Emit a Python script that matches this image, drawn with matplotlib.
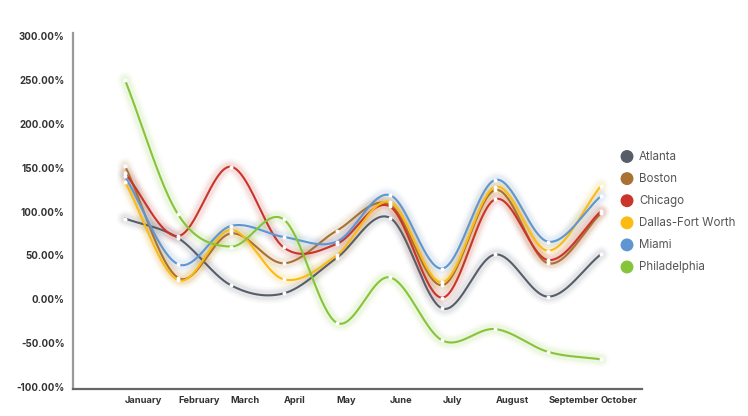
import numpy as np
import matplotlib
matplotlib.use("Agg")
import matplotlib.pyplot as plt
from matplotlib import transforms
from matplotlib.patches import Ellipse

months = ["January", "February", "March", "April", "May", "June",
          "July", "August", "September", "October"]
cities = ["Atlanta", "Boston", "Chicago", "Dallas-Fort Worth", "Miami", "Philadelphia"]

atlanta = [92, 70, 16, 6.7, 47, 93, -10.5, 51, 3, 51.5]
boston = [152, 24.6, 75, 41, 78, 108, 16, 124.5, 41, 98]
chicago = [143.5, 72, 151, 59, 63, 106, 1.8, 114, 44.7, 100.5]
dallas = [134, 22, 79, 22.7, 50, 111, 19.3, 128, 55.4, 129.4]
miami = [140, 40, 83.5, 71, 65.6, 118.8, 35, 136, 65.6, 117.7]
philadelphia = [250, 97, 60, 91, -26.7, 25, -47, -34, -60, -68.5]

series = [atlanta, boston, chicago, dallas, miami, philadelphia]
colors = ["#585d6a", "#a97132", "#c9352a", "#fcbb12", "#5f96d1", "#86c43a"]

yticks = [-100, -50, 0, 50, 100, 150, 200, 250, 300]
ytick_labels = ["-100.00%", "-50.00%", "0.00%", "50.00%", "100.00%",
                "150.00%", "200.00%", "250.00%", "300.00%"]


def catmull_rom(y, n=40):
    y = np.asarray(y, dtype=float)
    k = len(y)
    m = np.zeros(k)
    m[1:-1] = (y[2:] - y[:-2]) / 2.0
    m[0] = y[1] - y[0]
    m[-1] = y[-1] - y[-2]
    xs, ys = [], []
    for i in range(k - 1):
        t = np.linspace(0, 1, n, endpoint=(i == k - 2))
        h00 = 2 * t**3 - 3 * t**2 + 1
        h10 = t**3 - 2 * t**2 + t
        h01 = -2 * t**3 + 3 * t**2
        h11 = t**3 - t**2
        xs.append(i + t)
        ys.append(h00 * y[i] + h10 * m[i] + h01 * y[i + 1] + h11 * m[i + 1])
    return np.concatenate(xs), np.concatenate(ys)


W, H = 748, 416
fig = plt.figure(figsize=(W / 100, H / 100), dpi=100)
ax = fig.add_axes([73 / W, 1 - 389 / H, (642 - 73) / W, (389 - 33) / H])

x = np.arange(len(months))
for vals, col in zip(series, colors):
    sx, sy = catmull_rom(vals)
    for lw, a in [(12, 0.03), (9, 0.05), (6.5, 0.07)]:
        ax.plot(sx, sy, color=col, lw=lw, alpha=a, solid_capstyle="round",
                solid_joinstyle="round", zorder=1)
    ax.plot(sx, sy, color=col, lw=1.5, zorder=3, solid_capstyle="round")
    ax.scatter(x, vals, s=8, color="white", zorder=4, linewidths=0)

ax.set_xlim((73 - 125) / 52.9, (642 - 125) / 52.9)
ax.set_ylim(-100 - 2 / 0.8775, 300 + 3 / 0.8775)

tick_font = dict(fontfamily="Inter", fontweight="bold", color="#333333")
ax.set_xticks(x)
ax.set_xticklabels(months, fontsize=6.7, **tick_font)
offset = transforms.ScaledTranslation(-2 / 100, 0, fig.dpi_scale_trans)
for lab in ax.get_xticklabels():
    lab.set_horizontalalignment("left")
    lab.set_transform(lab.get_transform() + offset)
ax.set_yticks(yticks)
ax.set_yticklabels(ytick_labels, fontsize=7.0, **tick_font)
ax.tick_params(axis="both", length=0)
ax.tick_params(axis="y", pad=6)
ax.tick_params(axis="x", pad=5)

for s in ["top", "right"]:
    ax.spines[s].set_visible(False)
ax.spines["left"].set_color("#9a9a9a")
ax.spines["left"].set_linewidth(1.6)
ax.spines["bottom"].set_color("#666666")
ax.spines["bottom"].set_linewidth(1.6)

# legend
for i, (name, col) in enumerate(zip(cities, colors)):
    ypix = 156.5 + 22.1 * i
    fig.patches.append(Ellipse(
        (627 / W, 1 - ypix / H), width=11.5 / W, height=11.5 / H, color=col,
        transform=fig.transFigure, figure=fig))
    fig.text(639 / W, 1 - ypix / H, name, fontfamily="Inter",
             fontsize=8.3, color="#555555", va="center", ha="left")

fig.savefig("out.png", dpi=100)
